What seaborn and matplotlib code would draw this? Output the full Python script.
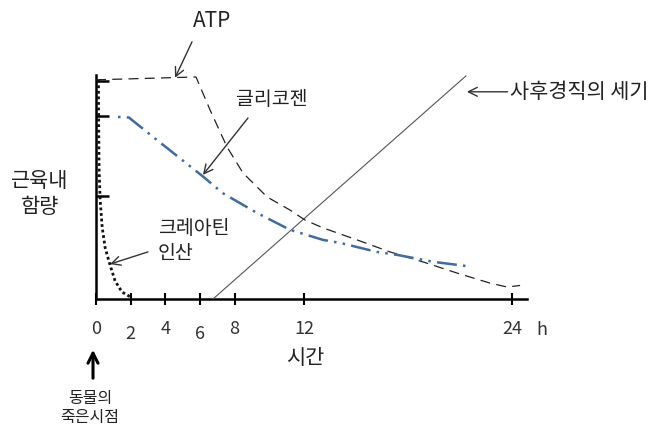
import numpy as np
import pandas as pd
import matplotlib
matplotlib.use('Agg')
import matplotlib.pyplot as plt
import matplotlib.transforms as mtransforms
import seaborn as sns

# values (x = hours after death, y = relative content)
atp_h = [0, 5.77, 6.58, 7.56, 8.48, 9.87, 11.19, 12.06, 13.1, 15.06, 16.96, 18.87, 20.83, 22.73, 23.72, 24.47]
atp_v = [100.5, 101.8, 86.7, 69.7, 57.8, 46.8, 40.8, 36.2, 32.6, 27.1, 21.6, 17.0, 11.9, 7.3, 5.5, 6.2]

glyco_h = [1.2, 1.9, 3.5, 6.2, 7.3, 9.3, 11.2, 13.1, 14.1, 16.2, 17.4, 19.5, 21.4]
glyco_v = [83.5, 83.2, 73.0, 56.0, 48.6, 39.4, 31.7, 27.1, 25.7, 21.6, 20.2, 17.0, 15.1]

creat_h = [0.14, 0.15, 0.18, 0.24, 0.36, 0.53, 0.81, 1.1, 1.5, 2.08]
creat_v = [100.5, 82.1, 59.2, 45.4, 32.6, 23.4, 15.6, 8.3, 3.2, 0.5]

rigor_h = [6.75, 21.35]
rigor_v = [0, 102.3]

xtick_vals = [0, 2, 4, 6, 8, 12, 24]
xtick_labels = ['0', '2', '4', '6', '8', '12', '24']
ytick_vals = [100, 83.7, 47.2]

sns.set_theme(style='white')
plt.rcParams['font.family'] = ['Noto Sans CJK KR', 'DejaVu Sans']

fig = plt.figure(figsize=(6.72, 4.30), dpi=100)
ax = fig.add_axes([96/672, 1-299/430, (527-96)/672, (299-75)/430])

atp = pd.DataFrame({'h': atp_h, 'v': atp_v})
glyco = pd.DataFrame({'h': glyco_h, 'v': glyco_v})
creat = pd.DataFrame({'h': creat_h, 'v': creat_v})
rigor = pd.DataFrame({'h': rigor_h, 'v': rigor_v})

sns.lineplot(data=rigor, x='h', y='v', ax=ax, color='#555555', lw=0.8, estimator=None)
sns.lineplot(data=atp, x='h', y='v', ax=ax, color='#222222', lw=0.9,
             linestyle=(0, (8, 5)), estimator=None, sort=False)
sns.lineplot(data=glyco, x='h', y='v', ax=ax, color='#3d6ba3', lw=1.8,
             linestyle=(13.5, (8, 2.5, 1, 2.5, 1, 2.5)), estimator=None, sort=False)
sns.lineplot(data=creat, x='h', y='v', ax=ax, color='#111111', lw=2.0,
             linestyle=(0, (1, 1)), estimator=None, sort=False)
for ln in ax.lines:
    ln.set_clip_on(False)
    ln.set_zorder(3)

ax.set_xlim(0, 24.87)
ax.set_ylim(0, 102.7)
for s in ['top', 'right']:
    ax.spines[s].set_visible(False)
for s in ['left', 'bottom']:
    ax.spines[s].set_color('black')
    ax.spines[s].set_linewidth(1.8)

ax.set_xticks(xtick_vals)
ax.set_xticklabels(xtick_labels, fontsize=13, color='#333333')
ax.tick_params(axis='x', direction='inout', length=9, width=1.5, color='black', pad=10.5)
ax.xaxis.get_major_ticks()[0].tick1line.set_visible(False)
for lab in ax.get_xticklabels():
    if lab.get_text() in ('2', '6'):
        lab.set_transform(lab.get_transform() + mtransforms.ScaledTranslation(0, -4/72, fig.dpi_scale_trans))
ax.set_yticks(ytick_vals)
ax.set_yticklabels([])
ax.tick_params(axis='y', direction='in', length=9.5, width=1.8, color='black', left=True)
ax.tick_params(axis='x', bottom=True)
ax.set_xlabel('')
ax.set_ylabel('')

arrow = dict(arrowstyle='->', color='#333333', lw=1.0, shrinkA=0, shrinkB=0, mutation_scale=16)

# ATP
ax.text(6.69, 127.5, 'ATP', fontsize=15, ha='center', va='center', color='#222222')
ax.annotate('', xy=(4.56, 101.4), xytext=(5.54, 117.9), arrowprops=arrow, annotation_clip=False)
# glycogen
ax.text(10.16, 91.3, '글리코젠', fontsize=14, ha='center', va='center', color='#222222')
ax.annotate('', xy=(6.17, 56.9), xytext=(8.77, 83.0), arrowprops=arrow, annotation_clip=False)
# creatine phosphate
ax.text(3.58, 26.5, '크레아틴\n인산', fontsize=14, ha='left', va='center', color='#222222',
        linespacing=1.25)
ax.annotate('', xy=(0.81, 16.0), xytext=(3.0, 21.6), arrowprops=arrow, annotation_clip=False)
# rigor mortis
ax.annotate('', xy=(21.4, 95.0), xytext=(23.75, 95.0), arrowprops=arrow, annotation_clip=False)
ax.text(23.9, 95.0, '사후경직의 세기', fontsize=15, ha='left', va='center', color='#222222')

fig.text(40/672, 1-194/430, '근육내\n함량', fontsize=15, ha='center', va='center',
         color='#222222', linespacing=1.25)
fig.text(305/672, 1-358/430, '시간', fontsize=15, ha='center', va='center', color='#222222')
fig.text(542/672, 1-330/430, 'h', fontsize=13, ha='center', va='center', color='#333333')

fig.patches.append(matplotlib.patches.FancyArrowPatch(
    (93/672, 1-381/430), (93/672, 1-347/430), transform=fig.transFigure,
    arrowstyle='->', mutation_scale=18, lw=2.2, color='black'))
fig.text(90/672, 1-408/430, '동물의\n죽은시점', fontsize=11.5, ha='center', va='center',
         color='#222222', linespacing=1.15)

fig.savefig('out.png', dpi=100, facecolor='white')
